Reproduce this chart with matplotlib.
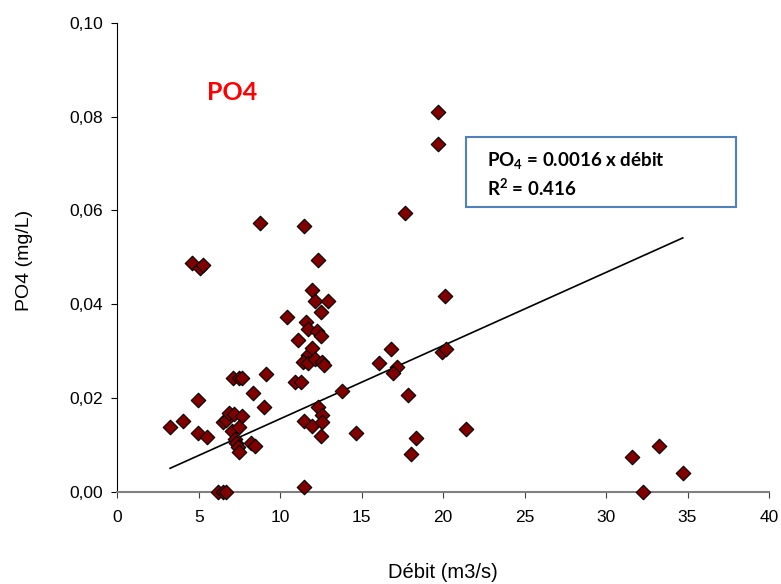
import matplotlib
matplotlib.use("Agg")
import matplotlib.pyplot as plt
from matplotlib.patches import Rectangle
import numpy as np

debit = [3.24, 4.05, 4.60, 5.05, 5.24, 4.93, 4.93, 5.49, 6.16, 6.51, 6.65,
         6.51, 6.67, 6.88, 7.18, 7.64, 7.02, 7.49, 7.22, 7.29, 7.43, 7.49,
         7.12, 7.45, 7.64, 8.21, 8.45, 8.35, 8.76, 9.13, 9.00, 10.44, 10.91,
         11.28, 11.07, 11.48, 11.48, 11.46, 11.56, 11.73, 11.73, 11.42, 11.73,
         11.93, 11.97, 11.97, 12.14, 12.14, 12.28, 12.34, 12.34, 12.51, 12.51,
         12.55, 12.71, 12.55, 12.55, 12.51, 12.92, 13.81, 14.65, 16.07, 16.78,
         17.19, 16.90, 17.66, 17.86, 18.01, 18.34, 19.71, 19.71, 19.91, 20.18,
         20.12, 21.40, 31.58, 32.29, 33.27, 34.71]
po4 = [0.0139, 0.0151, 0.0488, 0.0478, 0.0483, 0.0197, 0.0126, 0.0118, 0.0, 0.0, 0.0,
       0.0150, 0.0153, 0.0169, 0.0166, 0.0162, 0.0130, 0.0139, 0.0112, 0.0104, 0.0095, 0.0085,
       0.0244, 0.0244, 0.0244, 0.0104, 0.0098, 0.0210, 0.0573, 0.0251, 0.0182, 0.0372, 0.0235,
       0.0234, 0.0324, 0.0567, 0.0011, 0.0152, 0.0363, 0.0347, 0.0293, 0.0276, 0.0274,
       0.0430, 0.0307, 0.0141, 0.0407, 0.0283, 0.0344, 0.0494, 0.0182, 0.0384, 0.0332,
       0.0278, 0.0271, 0.0164, 0.0150, 0.0119, 0.0407, 0.0215, 0.0126, 0.0274, 0.0305,
       0.0267, 0.0253, 0.0594, 0.0207, 0.0081, 0.0116, 0.0810, 0.0742, 0.0298, 0.0305,
       0.0418, 0.0134, 0.0074, 0.0, 0.0097, 0.0041]
slope = 0.00156
x_ticks = [0, 5, 10, 15, 20, 25, 30, 35, 40]
y_ticks = [0.0, 0.02, 0.04, 0.06, 0.08, 0.10]
y_tick_labels = ["0,00", "0,02", "0,04", "0,06", "0,08", "0,10"]
eq_line1 = "PO$_\\mathbf{4}$ = 0.0016 x débit"
eq_line2 = "R$^\\mathbf{2}$ = 0.416"

W, H = 781, 584
fig = plt.figure(figsize=(W / 100, H / 100), dpi=100)
ax = fig.add_axes([0.1502, 0.1575, 0.8344, 0.8036])

xl = np.array([min(debit), max(debit)])
ax.plot(xl, slope * xl, color="black", lw=1.2, zorder=2)
ax.scatter(debit, po4, marker="D", s=55, facecolor="#800000", edgecolor="black",
           linewidths=0.8, zorder=3, clip_on=False)

ax.set_xlim(0, 40)
ax.set_ylim(0, 0.10)
ax.set_xticks(x_ticks)
ax.set_xticklabels([str(t) for t in x_ticks], fontfamily="Liberation Sans", fontsize=12.5)
ax.set_yticks(y_ticks)
ax.set_yticklabels(y_tick_labels, fontfamily="Liberation Sans", fontsize=12.5)
for s in ["top", "right"]:
    ax.spines[s].set_visible(False)
ax.spines["left"].set_color("black")
ax.spines["bottom"].set_color("#808080")
ax.spines["bottom"].set_linewidth(1.5)
ax.tick_params(axis="y", direction="out", length=4, color="black", pad=6)
ax.tick_params(axis="x", direction="out", length=4, color="#404040", pad=9)

ax.set_xlabel("Débit (m3/s)", fontfamily="Liberation Sans", fontsize=14.5)
ax.xaxis.set_label_coords(0.5, -0.151)
ax.set_ylabel("PO4 (mg/L)", fontfamily="Liberation Sans", fontsize=14)
ax.yaxis.set_label_coords(-0.129, 0.494)

ax.text(0.137, 0.851, "PO4", transform=ax.transAxes, color="red", fontsize=18,
        fontweight="bold", fontfamily="Lato", ha="left", va="center")

plt.rcParams["mathtext.fontset"] = "custom"
plt.rcParams["mathtext.bf"] = "Lato:bold"
plt.rcParams["mathtext.rm"] = "Lato:bold"
fx = (487.3 - 117.3) / 651.7
ax.text(fx, (492 - 161.7) / 469.3, eq_line1, transform=ax.transAxes,
        fontsize=13.5, fontweight="bold", fontfamily="Lato", ha="left", va="center")
ax.text(fx, (492 - 188.3) / 469.3, eq_line2, transform=ax.transAxes,
        fontsize=13.5, fontweight="bold", fontfamily="Lato", ha="left", va="center")
box = Rectangle((466, H - 206.7), 270, 70, transform=None, fill=False,
                ec="#4F81BD", lw=1.5, zorder=1)
fig.patches.append(box)

fig.savefig("out.png", dpi=100)
